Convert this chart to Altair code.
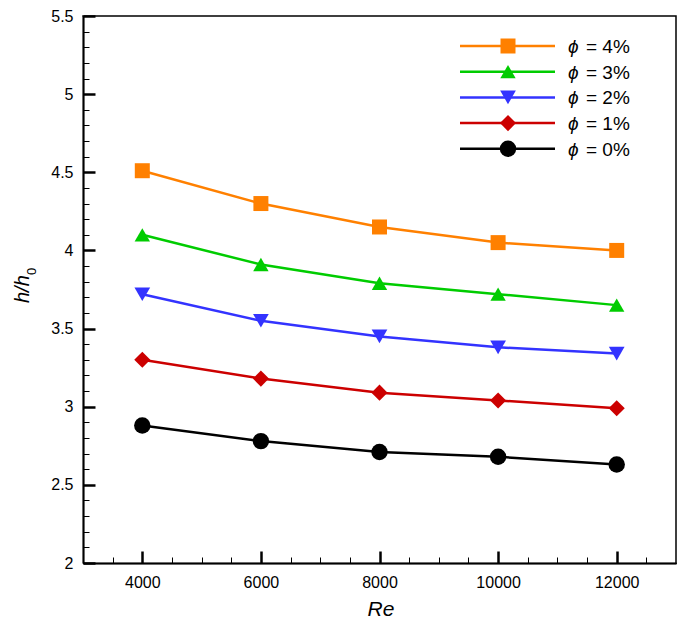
import altair as alt
import pandas as pd

# ---- data ----
re_values = [4000, 6000, 8000, 10000, 12000]
phi4 = [4.51, 4.30, 4.15, 4.05, 4.00]
phi3 = [4.10, 3.91, 3.79, 3.72, 3.65]
phi2 = [3.72, 3.55, 3.45, 3.38, 3.34]
phi1 = [3.30, 3.18, 3.09, 3.04, 2.99]
phi0 = [2.88, 2.78, 2.71, 2.68, 2.63]

series_names = ["ϕ = 4%", "ϕ = 3%", "ϕ = 2%", "ϕ = 1%", "ϕ = 0%"]
series_rest = ["= 4%", "= 3%", "= 2%", "= 1%", "= 0%"]
series_values = [phi4, phi3, phi2, phi1, phi0]
series_colors = ["#FF8000", "#00CC00", "#3333FF", "#CC0000", "#000000"]
series_shapes = ["square", "triangle-up", "triangle-down", "diamond", "circle"]
series_sizes = [225, 270, 270, 290, 300]

x_domain = [3000, 13000]
y_domain = [2, 5.5]
x_ticks = [4000, 6000, 8000, 10000, 12000]
x_minor = [3500, 4500, 5000, 5500, 6500, 7000, 7500, 8500, 9000, 9500,
           10500, 11000, 11500, 12500]
y_ticks = [2, 2.5, 3, 3.5, 4, 4.5, 5, 5.5]
y_minor = [round(2 + 0.1 * i, 1) for i in range(1, 35)]

FONT = "Liberation Sans"
W, H = 593, 547

rows = []
for name, vals in zip(series_names, series_values):
    for r, v in zip(re_values, vals):
        rows.append({"Re": r, "h": v, "series": name})
df = pd.DataFrame(rows)

leg = pd.DataFrame({"series": series_names, "rest": series_rest,
                    "row": list(range(len(series_names))), "phi": ["ϕ"] * 5})

# frame path along the top and right edges of the plot domain
frame_df = pd.DataFrame({
    "Re": [x_domain[0], x_domain[1], x_domain[1]],
    "h": [y_domain[1], y_domain[1], y_domain[0]],
    "k": [0, 1, 2],
})

xscale = alt.Scale(domain=x_domain, nice=False, zero=False)
yscale = alt.Scale(domain=y_domain, nice=False, zero=False)
cscale = alt.Scale(domain=series_names, range=series_colors)
shscale = alt.Scale(domain=series_names, range=series_shapes)
szscale = alt.Scale(domain=series_names, range=series_sizes)

common_axis = dict(domain=True, domainColor="black", domainWidth=1.5,
                   grid=False, title=None)

ax_x_labels = alt.Axis(orient="bottom", values=x_ticks, ticks=False, tickSize=0,
                       labelFont=FONT, labelFontSize=16, labelColor="black",
                       labelPadding=11, format="d", **common_axis)
ax_y_labels = alt.Axis(orient="left", values=y_ticks, ticks=False, tickSize=0,
                       labelFont=FONT, labelFontSize=16, labelColor="black",
                       labelPadding=10, format="~g", **common_axis)
ax_x_major = alt.Axis(orient="top", offset=-H, values=x_ticks, labels=False,
                      tickSize=12, tickWidth=2.5, tickColor="black", **common_axis)
ax_y_major = alt.Axis(orient="right", offset=-W, values=y_ticks, labels=False,
                      tickSize=12, tickWidth=2.5, tickColor="black", **common_axis)
ax_x_minor = alt.Axis(orient="top", offset=-H, values=x_minor, labels=False,
                      tickSize=6, tickWidth=1, tickColor="black", **common_axis)
ax_y_minor = alt.Axis(orient="right", offset=-W, values=y_minor, labels=False,
                      tickSize=6, tickWidth=1, tickColor="black", **common_axis)

base = alt.Chart(df)
color = alt.Color("series:N", scale=cscale, legend=None)

lines = base.mark_line(strokeWidth=2.5).encode(
    x=alt.X("Re:Q", scale=xscale, axis=ax_x_labels),
    y=alt.Y("h:Q", scale=yscale, axis=ax_y_labels),
    color=color,
)

points = base.mark_point(filled=True, opacity=1).encode(
    x=alt.X("Re:Q", scale=xscale, axis=ax_x_major),
    y=alt.Y("h:Q", scale=yscale, axis=ax_y_major),
    color=color,
    shape=alt.Shape("series:N", scale=shscale, legend=None),
    size=alt.Size("series:N", scale=szscale, legend=None),
)

minor = base.mark_point(opacity=0).encode(
    x=alt.X("Re:Q", scale=xscale, axis=ax_x_minor),
    y=alt.Y("h:Q", scale=yscale, axis=ax_y_minor),
)

frame = alt.Chart(frame_df).mark_line(
    color="black", strokeWidth=1.5, strokeCap="square").encode(
    x=alt.X("Re:Q", scale=xscale, axis=None),
    y=alt.Y("h:Q", scale=yscale, axis=None),
    order=alt.Order("k:Q"),
)

# ---- legend (inside, top right) ----
legbase = alt.Chart(leg).transform_calculate(ly="30 + 25.7 * datum.row")
leg_lines = legbase.mark_rule(strokeWidth=2.5).encode(
    x=alt.value(377), x2=alt.value(472),
    y=alt.Y("ly:Q", scale=None), color=color,
)
leg_pts = legbase.mark_point(filled=True, opacity=1).encode(
    x=alt.value(425), y=alt.Y("ly:Q", scale=None), color=color,
    shape=alt.Shape("series:N", scale=shscale, legend=None),
    size=alt.Size("series:N", scale=szscale, legend=None),
)
leg_phi = legbase.transform_calculate(ty="datum.ly + 7").mark_text(
    font=FONT, fontSize=19, fontStyle="italic", align="left",
    baseline="alphabetic", color="black").encode(
    x=alt.value(485), y=alt.Y("ty:Q", scale=None), text="phi:N")
leg_txt = legbase.transform_calculate(ty="datum.ly + 7").mark_text(
    font=FONT, fontSize=19, align="left", baseline="alphabetic",
    color="black").encode(
    x=alt.value(503), y=alt.Y("ty:Q", scale=None), text="rest:N")

# ---- axis titles ----
xtitle = alt.Chart(pd.DataFrame({"t": ["Re"]})).mark_text(
    font=FONT, fontSize=21, fontStyle="italic", align="center",
    baseline="alphabetic", color="black").encode(
    x=alt.value(298), y=alt.value(600), text="t:N")
ytitle1 = alt.Chart(pd.DataFrame({"t": ["h/h"]})).mark_text(
    font=FONT, fontSize=20, fontStyle="italic", align="left",
    baseline="alphabetic", angle=270, color="black").encode(
    x=alt.value(-54), y=alt.value(287), text="t:N")
ytitle2 = alt.Chart(pd.DataFrame({"t": ["0"]})).mark_text(
    font=FONT, fontSize=13, align="left", baseline="alphabetic",
    angle=270, color="black").encode(
    x=alt.value(-47), y=alt.value(259), text="t:N")

chart = alt.layer(
    minor, lines, points, frame,
    leg_lines, leg_pts, leg_phi, leg_txt,
    xtitle, ytitle1, ytitle2,
).properties(
    width=W, height=H,
    autosize=alt.AutoSizeParams(type="none"),
    padding={"left": 75, "top": 8, "right": 1, "bottom": 58},
    background="white",
).configure_view(stroke=None)

chart.save("out.html", embed_options={"renderer": "svg", "actions": False})
